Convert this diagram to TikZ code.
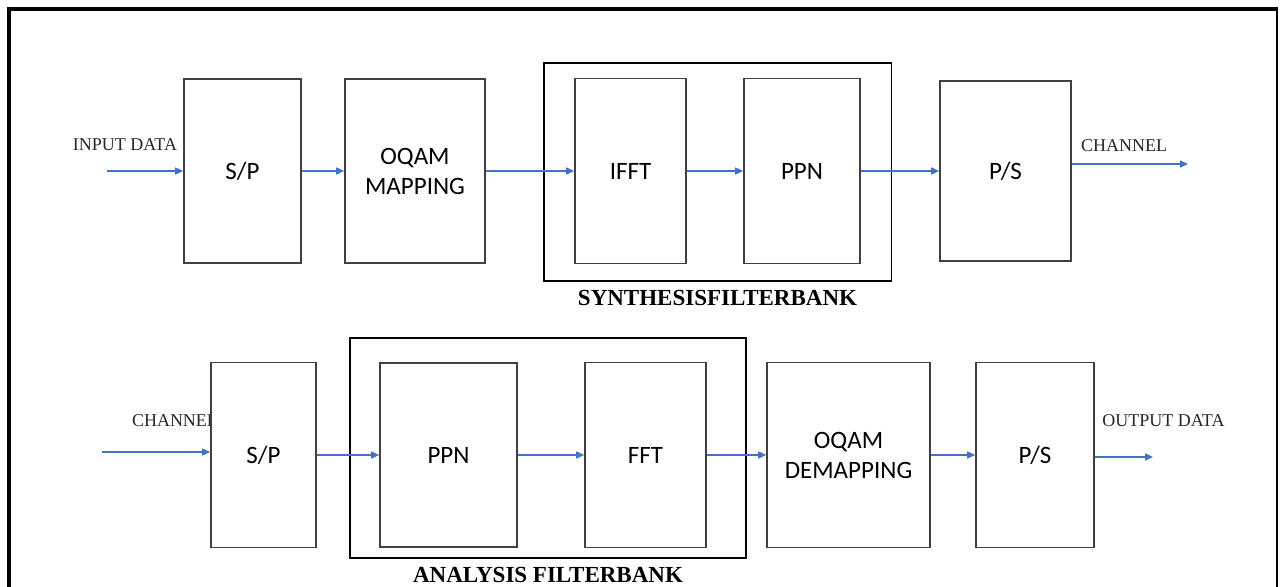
\documentclass[tikz,border=0pt]{standalone}
\usepackage{fontspec}
\setmainfont{Liberation Serif}
\newfontfamily\carlito{Carlito}
\usetikzlibrary{positioning, arrows.meta, fit, backgrounds}
\definecolor{flowblue}{RGB}{68,114,196}

\begin{document}
\begin{tikzpicture}
    [
        on grid, label distance=1pt,
        block_node/.style={rectangle, draw=black!75, fill=white, line width=0.8pt, inner sep=0pt, align=center, font=\carlito\fontsize{12.5}{15}\selectfont},
        bank_node/.style={rectangle, draw=black, line width=0.8pt, inner sep=0pt},
        bank_label/.style={font=\bfseries\fontsize{11.5}{13}\selectfont},
        signal_label/.style={font=\fontsize{9}{11}\selectfont, inner sep=0pt, text=black!85},
        flow/.style={-{Triangle[length=4pt, width=3.5pt]}, line width=0.75pt, color=flowblue},
    ]
        \useasboundingbox (0,0) rectangle (640pt,-293.5pt) ;
        % transmitter
        \node[block_node, minimum width=58.5pt, minimum height=92pt] (tsp) at (121.25pt,-85.5pt) {S/P} ;
        \node[block_node, minimum width=70pt, minimum height=92pt] (tmap) [right = 86.25pt of tsp] {OQAM\\MAPPING} ;
        \node[block_node, minimum width=55.5pt, minimum height=92.5pt] (tifft) [right = 107.75pt of tmap] {IFFT} ;
        \node[block_node, minimum width=58pt, minimum height=92.5pt] (tppn) [right = 85.75pt of tifft] {PPN} ;
        \node[block_node, minimum width=65.5pt, minimum height=90pt] (tps) [right = 101.75pt of tppn] {P/S} ;
        \node[bank_node, fit=(tifft)(tppn), inner xsep=15.25pt, inner ysep=7.75pt, yshift=-0.5pt, label={[bank_label]below:SYNTHESISFILTERBANK}] (synth) {} ;
        % receiver
        \node[block_node, minimum width=52.5pt, minimum height=92.5pt] (bsp) [below right = 142pt and 10.5pt of tsp] {S/P} ;
        \node[block_node, minimum width=68.5pt, minimum height=92pt] (bppn) [right = 92.5pt of bsp] {PPN} ;
        \node[block_node, minimum width=60.5pt, minimum height=92.5pt] (bfft) [right = 98.5pt of bppn] {FFT} ;
        \node[block_node, minimum width=81.5pt, minimum height=92.5pt] (bdemap) [right = 101.5pt of bfft] {OQAM\\DEMAPPING} ;
        \node[block_node, minimum width=59pt, minimum height=92.5pt] (bps) [right = 93.25pt of bdemap] {P/S} ;
        \node[bank_node, fit=(bppn)(bfft), inner xsep=17pt, inner ysep=8.25pt, xshift=2.5pt, yshift=3.5pt, label={[bank_label]below:ANALYSIS FILTERBANK}] (analysis) {} ;
        % open ends of the two chains
        \coordinate[left = 67.75pt of tsp] (tin) ;
        \coordinate[above right = 3.5pt and 91.25pt of tps] (tout) ;
        \coordinate[above left = 1.5pt and 80.75pt of bsp] (bin) ;
        \coordinate[below right = 1pt and 59pt of bps] (bout) ;
        \node[signal_label] (inlabel) [above right = 13pt and 9pt of tin, anchor=center] {INPUT DATA} ;
        \node[signal_label] (txlabel) [above left = 9pt and 32pt of tout, anchor=center] {CHANNEL} ;
        \begin{scope}[on background layer]
            \node[signal_label] (rxlabel) [above right = 15.5pt and 36.5pt of bin, anchor=center] {CHANNEL} ;
        \end{scope}
        \node[signal_label] (outlabel) [above right = 18pt and 5.25pt of bout, anchor=center] {OUTPUT DATA} ;
        % signal flow
        \draw[flow] (tin) -- (tin -| tsp.west) ;
        \draw[flow] (tsp.east) -- (tsp.east -| tmap.west) ;
        \draw[flow] (tmap.east) -- (tmap.east -| tifft.west) ;
        \draw[flow] (tifft.east) -- (tifft.east -| tppn.west) ;
        \draw[flow] (tppn.east) -- (tppn.east -| tps.west) ;
        \draw[flow] (tps.east |- tout) -- (tout) ;
        \draw[flow] (bin) -- (bin -| bsp.west) ;
        \draw[flow] (bsp.east) -- (bsp.east -| bppn.west) ;
        \draw[flow] (bppn.east) -- (bppn.east -| bfft.west) ;
        \draw[flow] (bfft.east) -- (bfft.east -| bdemap.west) ;
        \draw[flow] (bdemap.east) -- (bdemap.east -| bps.west) ;
        \draw[flow] (bps.east |- bout) -- (bout) ;
        % page frame
        \draw[line width=2pt] (4.5pt,-293.5pt) -- (4.5pt,-4.5pt) -- (639pt,-4.5pt) ;
        \draw[line width=1pt] (638.5pt,-4.5pt) -- (638.5pt,-293.5pt) ;
\end{tikzpicture}
\end{document}
